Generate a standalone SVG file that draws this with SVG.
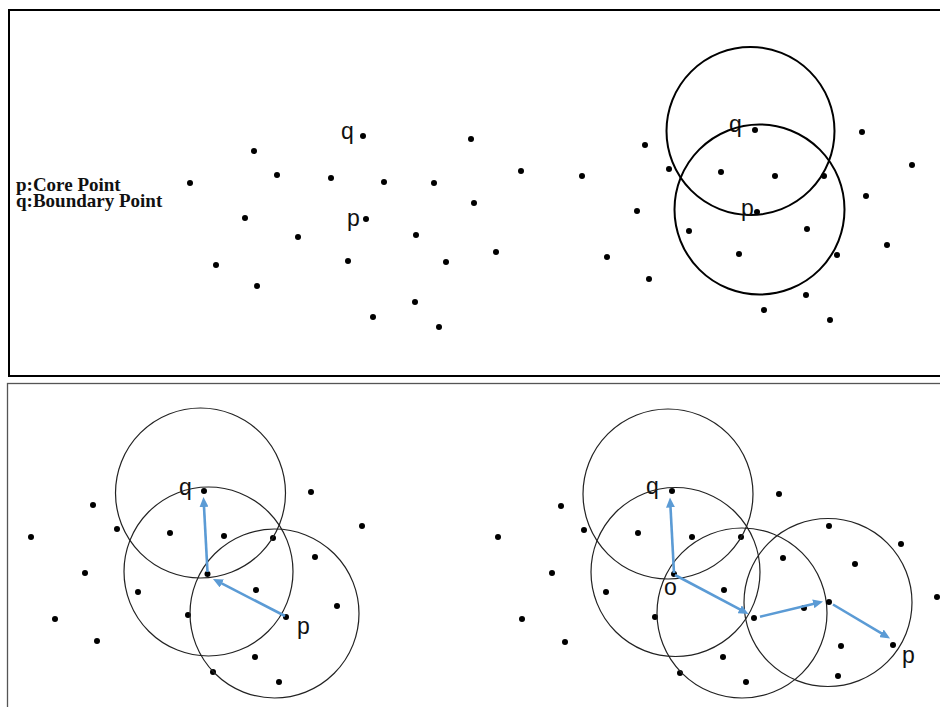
<svg xmlns="http://www.w3.org/2000/svg" width="940" height="707" viewBox="0 0 940 707">
<style>
.d{fill:#000}
.lbl{font-family:"Liberation Sans",Arial,sans-serif;font-size:23px;fill:#111}
.leg{font-family:"Liberation Serif","Times New Roman",serif;font-size:19px;font-weight:bold;fill:#111}
.ct{fill:none;stroke:#000;stroke-width:2}
.cb{fill:none;stroke:#222;stroke-width:1.2}
.ar{stroke:#5B9BD5;stroke-width:2.6;fill:none;marker-end:url(#ah)}
</style>
<defs>
<marker id="ah" markerUnits="userSpaceOnUse" markerWidth="11" markerHeight="9" refX="4" refY="4.5" orient="auto">
<path d="M0,0 L10,4.5 L0,9 z" fill="#5B9BD5"/>
</marker>
</defs>
<rect width="940" height="707" fill="#fff"/>
<g id="panel-top">
<rect x="9" y="10" width="945" height="366" fill="none" stroke="#000" stroke-width="2"/>
<text class="leg" x="16" y="191">p:Core Point</text>
<text class="leg" x="16" y="207">q:Boundary Point</text>
<g id="top-dots">
<circle class="d" cx="254" cy="151" r="3"/><circle class="d" cx="277" cy="175" r="3"/><circle class="d" cx="190" cy="183" r="3"/>
<circle class="d" cx="245" cy="218" r="3"/><circle class="d" cx="298" cy="237" r="3"/><circle class="d" cx="216" cy="265" r="3"/>
<circle class="d" cx="257" cy="286" r="3"/><circle class="d" cx="471" cy="139" r="3"/><circle class="d" cx="331" cy="178" r="3"/>
<circle class="d" cx="384" cy="182" r="3"/><circle class="d" cx="434" cy="183" r="3"/><circle class="d" cx="521" cy="171" r="3"/>
<circle class="d" cx="582" cy="176" r="3"/><circle class="d" cx="474" cy="203" r="3"/><circle class="d" cx="416" cy="235" r="3"/>
<circle class="d" cx="348" cy="261" r="3"/><circle class="d" cx="446" cy="262" r="3"/><circle class="d" cx="496" cy="252" r="3"/>
<circle class="d" cx="607" cy="257" r="3"/><circle class="d" cx="415" cy="302" r="3"/><circle class="d" cx="373" cy="317" r="3"/>
<circle class="d" cx="439" cy="327" r="3"/>
<circle class="d" cx="645" cy="145" r="3"/><circle class="d" cx="669" cy="169" r="3"/><circle class="d" cx="721" cy="172" r="3"/>
<circle class="d" cx="775" cy="176" r="3"/><circle class="d" cx="824" cy="176" r="3"/><circle class="d" cx="862" cy="132" r="3"/>
<circle class="d" cx="912" cy="165" r="3"/><circle class="d" cx="637" cy="211" r="3"/><circle class="d" cx="866" cy="196" r="3"/>
<circle class="d" cx="689" cy="231" r="3"/><circle class="d" cx="807" cy="229" r="3"/><circle class="d" cx="739" cy="254" r="3"/>
<circle class="d" cx="837" cy="255" r="3"/><circle class="d" cx="887" cy="245" r="3"/><circle class="d" cx="649" cy="279" r="3"/>
<circle class="d" cx="806" cy="295" r="3"/><circle class="d" cx="764" cy="310" r="3"/><circle class="d" cx="830" cy="320" r="3"/>
</g>
<g id="top-q1"><circle class="d" cx="363" cy="136" r="3"/><text class="lbl" x="341" y="139">q</text></g>
<g id="top-p1"><circle class="d" cx="366" cy="219" r="3"/><text class="lbl" x="347" y="226">p</text></g>
<g id="top-q2"><circle class="ct" cx="750.5" cy="131" r="84"/><circle class="d" cx="755" cy="130" r="3"/><text class="lbl" x="729" y="132">q</text></g>
<g id="top-p2"><circle class="ct" cx="759.5" cy="209.5" r="85"/><circle class="d" cx="757" cy="212" r="3"/><text class="lbl" x="741" y="216">p</text></g>
</g>
<g id="panel-bottom">
<rect x="7.5" y="383.5" width="945" height="340" fill="none" stroke="#555" stroke-width="1.3"/>
<g id="bl-dots">
<circle class="d" cx="93" cy="505" r="3"/><circle class="d" cx="31" cy="537" r="3"/><circle class="d" cx="117" cy="529" r="3"/>
<circle class="d" cx="170" cy="533" r="3"/><circle class="d" cx="224" cy="536" r="3"/><circle class="d" cx="273" cy="538" r="3"/>
<circle class="d" cx="311" cy="492" r="3"/><circle class="d" cx="362" cy="526" r="3"/><circle class="d" cx="85" cy="573" r="3"/>
<circle class="d" cx="315" cy="557" r="3"/><circle class="d" cx="138" cy="592" r="3"/><circle class="d" cx="256" cy="590" r="3"/>
<circle class="d" cx="55" cy="619" r="3"/><circle class="d" cx="188" cy="615" r="3"/><circle class="d" cx="337" cy="606" r="3"/>
<circle class="d" cx="97" cy="641" r="3"/><circle class="d" cx="255" cy="657" r="3"/><circle class="d" cx="213" cy="672" r="3"/>
<circle class="d" cx="279" cy="682" r="3"/>
</g>
<g id="bl-q"><circle class="cb" cx="200.5" cy="493" r="85"/><circle class="d" cx="204" cy="491" r="3"/><text class="lbl" x="179" y="495">q</text></g>
<g id="bl-mid"><circle class="cb" cx="208.5" cy="571.5" r="84.5"/><circle class="d" cx="207.5" cy="574" r="3"/></g>
<g id="bl-p"><circle class="cb" cx="274.5" cy="613.5" r="84.5"/><circle class="d" cx="286" cy="617" r="3"/><text class="lbl" x="297" y="634">p</text></g>
<g id="br-dots">
<circle class="d" cx="561" cy="506" r="3"/><circle class="d" cx="498" cy="537" r="3"/><circle class="d" cx="584" cy="530" r="3"/>
<circle class="d" cx="638" cy="533" r="3"/><circle class="d" cx="692" cy="537" r="3"/><circle class="d" cx="741" cy="537" r="3"/>
<circle class="d" cx="779" cy="494" r="3"/><circle class="d" cx="552" cy="573" r="3"/><circle class="d" cx="606" cy="592" r="3"/>
<circle class="d" cx="724" cy="590" r="3"/><circle class="d" cx="522" cy="619" r="3"/><circle class="d" cx="655" cy="617" r="3"/>
<circle class="d" cx="565" cy="642" r="3"/><circle class="d" cx="723" cy="657" r="3"/><circle class="d" cx="680" cy="673" r="3"/>
<circle class="d" cx="746" cy="682" r="3"/><circle class="d" cx="783" cy="558" r="3"/><circle class="d" cx="829" cy="526" r="3"/>
<circle class="d" cx="901" cy="544" r="3"/><circle class="d" cx="855" cy="564" r="3"/><circle class="d" cx="804" cy="608" r="3"/>
<circle class="d" cx="937" cy="597" r="3"/><circle class="d" cx="841" cy="646" r="3"/><circle class="d" cx="838" cy="676" r="3"/>
</g>
<g id="br-q"><circle class="cb" cx="668" cy="494" r="85"/><circle class="d" cx="672" cy="491" r="3"/><text class="lbl" x="646" y="494">q</text></g>
<g id="br-o"><circle class="cb" cx="675.5" cy="572" r="84.5"/><circle class="d" cx="674" cy="574" r="3"/><text class="lbl" x="664" y="595">o</text></g>
<g id="br-m1"><circle class="cb" cx="742" cy="613" r="85"/><circle class="d" cx="754" cy="618" r="3"/></g>
<g id="br-m2"><circle class="cb" cx="828" cy="602.5" r="84"/><circle class="d" cx="829" cy="602" r="3"/></g>
<g id="br-p"><circle class="d" cx="893" cy="645" r="3"/><text class="lbl" x="902" y="663">p</text></g>
</g>
<g id="connectors">
<line class="ar" x1="207.5" y1="572" x2="203.8" y2="503"/>
<line class="ar" x1="285" y1="616" x2="218.3" y2="581.7"/>
<line class="ar" x1="674" y1="573" x2="670.3" y2="503.5"/>
<line class="ar" x1="675" y1="575" x2="743.2" y2="611.2"/>
<line class="ar" x1="760" y1="616.7" x2="817.2" y2="602.9"/>
<line class="ar" x1="833" y1="604.5" x2="884.9" y2="635.4"/>
</g>
</svg>
